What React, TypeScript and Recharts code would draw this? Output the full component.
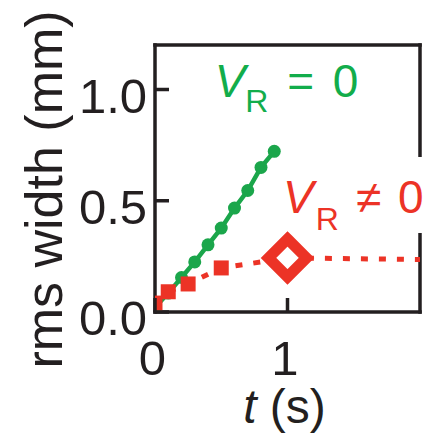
import React from "react";
import { LineChart, Line, XAxis, YAxis, ReferenceDot, ReferenceLine } from "recharts";

const FONT = "'Liberation Sans', Arial, Helvetica, sans-serif";
const INK = "#231f20";
const GREEN = "#1ba64b";
const GREEN_TEXT = "#12ad4b";
const RED = "#ec3326";

// V_R = 0 series
const greenTimes = [0, 0.1, 0.2, 0.3, 0.4, 0.5, 0.6, 0.7, 0.8, 0.9];
const greenWidths = [0.02, 0.085, 0.155, 0.225, 0.302, 0.377, 0.467, 0.546, 0.65, 0.722];

// V_R != 0 series
const redTimes = [0, 0.1, 0.25, 0.5, 1.0, 2.0];
const redWidths = [0.04, 0.091, 0.126, 0.198, 0.243, 0.236];
const redMarkers = ["square", "square", "square", "square", "diamond", "none"];

const xTicks = [0, 1];
const yTicks = [0, 0.5, 1.0];

const X_MAX = 2;
const Y_MAX = 1.2;

const greenData = greenTimes.map((t, i) => ({ t, w: greenWidths[i] }));
const redData = redTimes.map((t, i) => ({ t, w: redWidths[i], marker: redMarkers[i] }));

const FRAME_W = 3.5;
const TICK_LEN = 14;
const Y_MARGIN = 8;

const frame = { stroke: INK, strokeWidth: FRAME_W, strokeLinecap: "square" as const };

// label plus inward tick mark
const YTick = (props: any) => {
  const x = Number(props.x);
  const y = Number(props.y);
  const ax = x + Y_MARGIN;
  return (
    <g>
      <line x1={ax} x2={ax + TICK_LEN} y1={y} y2={y} stroke={INK} strokeWidth={FRAME_W} />
      <text x={x} y={y} dy={23} textAnchor="end" fontSize={49} fill={INK} fontFamily={FONT}>
        {Number(props.payload.value).toFixed(1)}
      </text>
    </g>
  );
};

const XTick = (props: any) => {
  const x = Number(props.x);
  const y = Number(props.y);
  return (
    <g>
      <line x1={x} x2={x} y1={y} y2={y - TICK_LEN} stroke={INK} strokeWidth={FRAME_W} />
      <text x={x} y={y} dx={-2.5} dy={63} textAnchor="middle" fontSize={49} fill={INK} fontFamily={FONT}>
        {props.payload.value}
      </text>
    </g>
  );
};

const RedDot = (props: any) => {
  const { cx, cy, payload, index } = props;
  if (payload.marker === "square") {
    return <rect key={index} x={cx - 7.5} y={cy - 7.5} width={15} height={15} fill={RED} />;
  }
  if (payload.marker === "diamond") {
    const d = 19;
    return (
      <path
        key={index}
        d={`M${cx},${cy - d}L${cx + d},${cy}L${cx},${cy + d}L${cx - d},${cy}Z`}
        fill="#fff"
        stroke={RED}
        strokeWidth={11}
        strokeLinejoin="miter"
      />
    );
  }
  return <g key={index} />;
};

const GreenLabel = (props: any) => {
  const vb = props.viewBox;
  const cx = vb.x + vb.width / 2;
  const cy = vb.y + vb.height / 2;
  return (
    <text x={cx} y={cy} fill={GREEN_TEXT} fontSize={46} fontFamily={FONT}>
      <tspan fontStyle="italic">V</tspan>
      <tspan fontSize={32} dy={15}>R</tspan>
      <tspan x={cx + 72.5} dy={-15}>=</tspan>
      <tspan x={cx + 118}>0</tspan>
    </text>
  );
};

const RedLabel = (props: any) => {
  const vb = props.viewBox;
  const cx = vb.x + vb.width / 2;
  const cy = vb.y + vb.height / 2;
  return (
    <g>
      <rect x={cx + 112} y={cy - 56} width={40} height={76} fill="#fff" />
      <text x={cx} y={cy} fill={RED} fontSize={46} fontFamily={FONT}>
        <tspan fontStyle="italic">V</tspan>
        <tspan fontSize={32} dx={2} dy={17}>R</tspan>
        <tspan x={cx + 73} dy={-17}>≠</tspan>
        <tspan x={cx + 115}>0</tspan>
      </text>
    </g>
  );
};

const YLabel = (props: any) => {
  const vb = props.viewBox;
  const x = vb.x + 62;
  const y = vb.y + vb.height / 2 + 11;
  return (
    <text x={x} y={y} transform={`rotate(-90, ${x}, ${y})`} textAnchor="middle" fontSize={52} fill={INK} fontFamily={FONT}>
      rms width (mm)
    </text>
  );
};

const XLabel = (props: any) => {
  const vb = props.viewBox;
  const x = vb.x + vb.width / 2 - 3;
  const y = vb.y + 111;
  return (
    <text x={x} y={y} textAnchor="middle" fontSize={48} fill={INK} fontFamily={FONT}>
      <tspan fontStyle="italic">t</tspan> (s)
    </text>
  );
};

export default function App() {
  return (
    <div style={{ position: "absolute", left: 0, top: 0, background: "#fff" }}>
      <LineChart width={429} height={436} margin={{ top: 45, right: 9, bottom: 0, left: 0 }}>
        <XAxis
          dataKey="t"
          type="number"
          domain={[0, X_MAX]}
          ticks={xTicks}
          allowDataOverflow
          height={124}
          axisLine={frame}
          tickLine={false}
          tickSize={0}
          tickMargin={0}
          tick={<XTick />}
          label={XLabel}
        />
        <YAxis
          type="number"
          domain={[0, Y_MAX]}
          ticks={yTicks}
          allowDataOverflow
          width={155}
          axisLine={frame}
          tickLine={false}
          tickSize={0}
          tickMargin={Y_MARGIN}
          tick={<YTick />}
          label={YLabel}
        />
        <ReferenceLine y={Y_MAX} stroke={INK} strokeWidth={FRAME_W} strokeLinecap="square" />
        <ReferenceLine x={X_MAX} stroke={INK} strokeWidth={FRAME_W} strokeLinecap="square" />
        <Line
          data={greenData}
          dataKey="w"
          type="linear"
          stroke={GREEN}
          strokeWidth={4.5}
          dot={{ r: 6.5, fill: GREEN, stroke: "none" }}
          activeDot={false}
          isAnimationActive={false}
        />
        <Line
          data={redData}
          dataKey="w"
          type="linear"
          stroke={RED}
          strokeWidth={5}
          strokeDasharray="7 11"
          dot={RedDot}
          activeDot={false}
          isAnimationActive={false}
        />
        <ReferenceDot x={0.45} y={0.966} r={1} fill="none" stroke="none" label={GreenLabel} />
        <ReferenceDot x={0.966} y={0.445} r={1} fill="none" stroke="none" label={RedLabel} />
      </LineChart>
    </div>
  );
}
